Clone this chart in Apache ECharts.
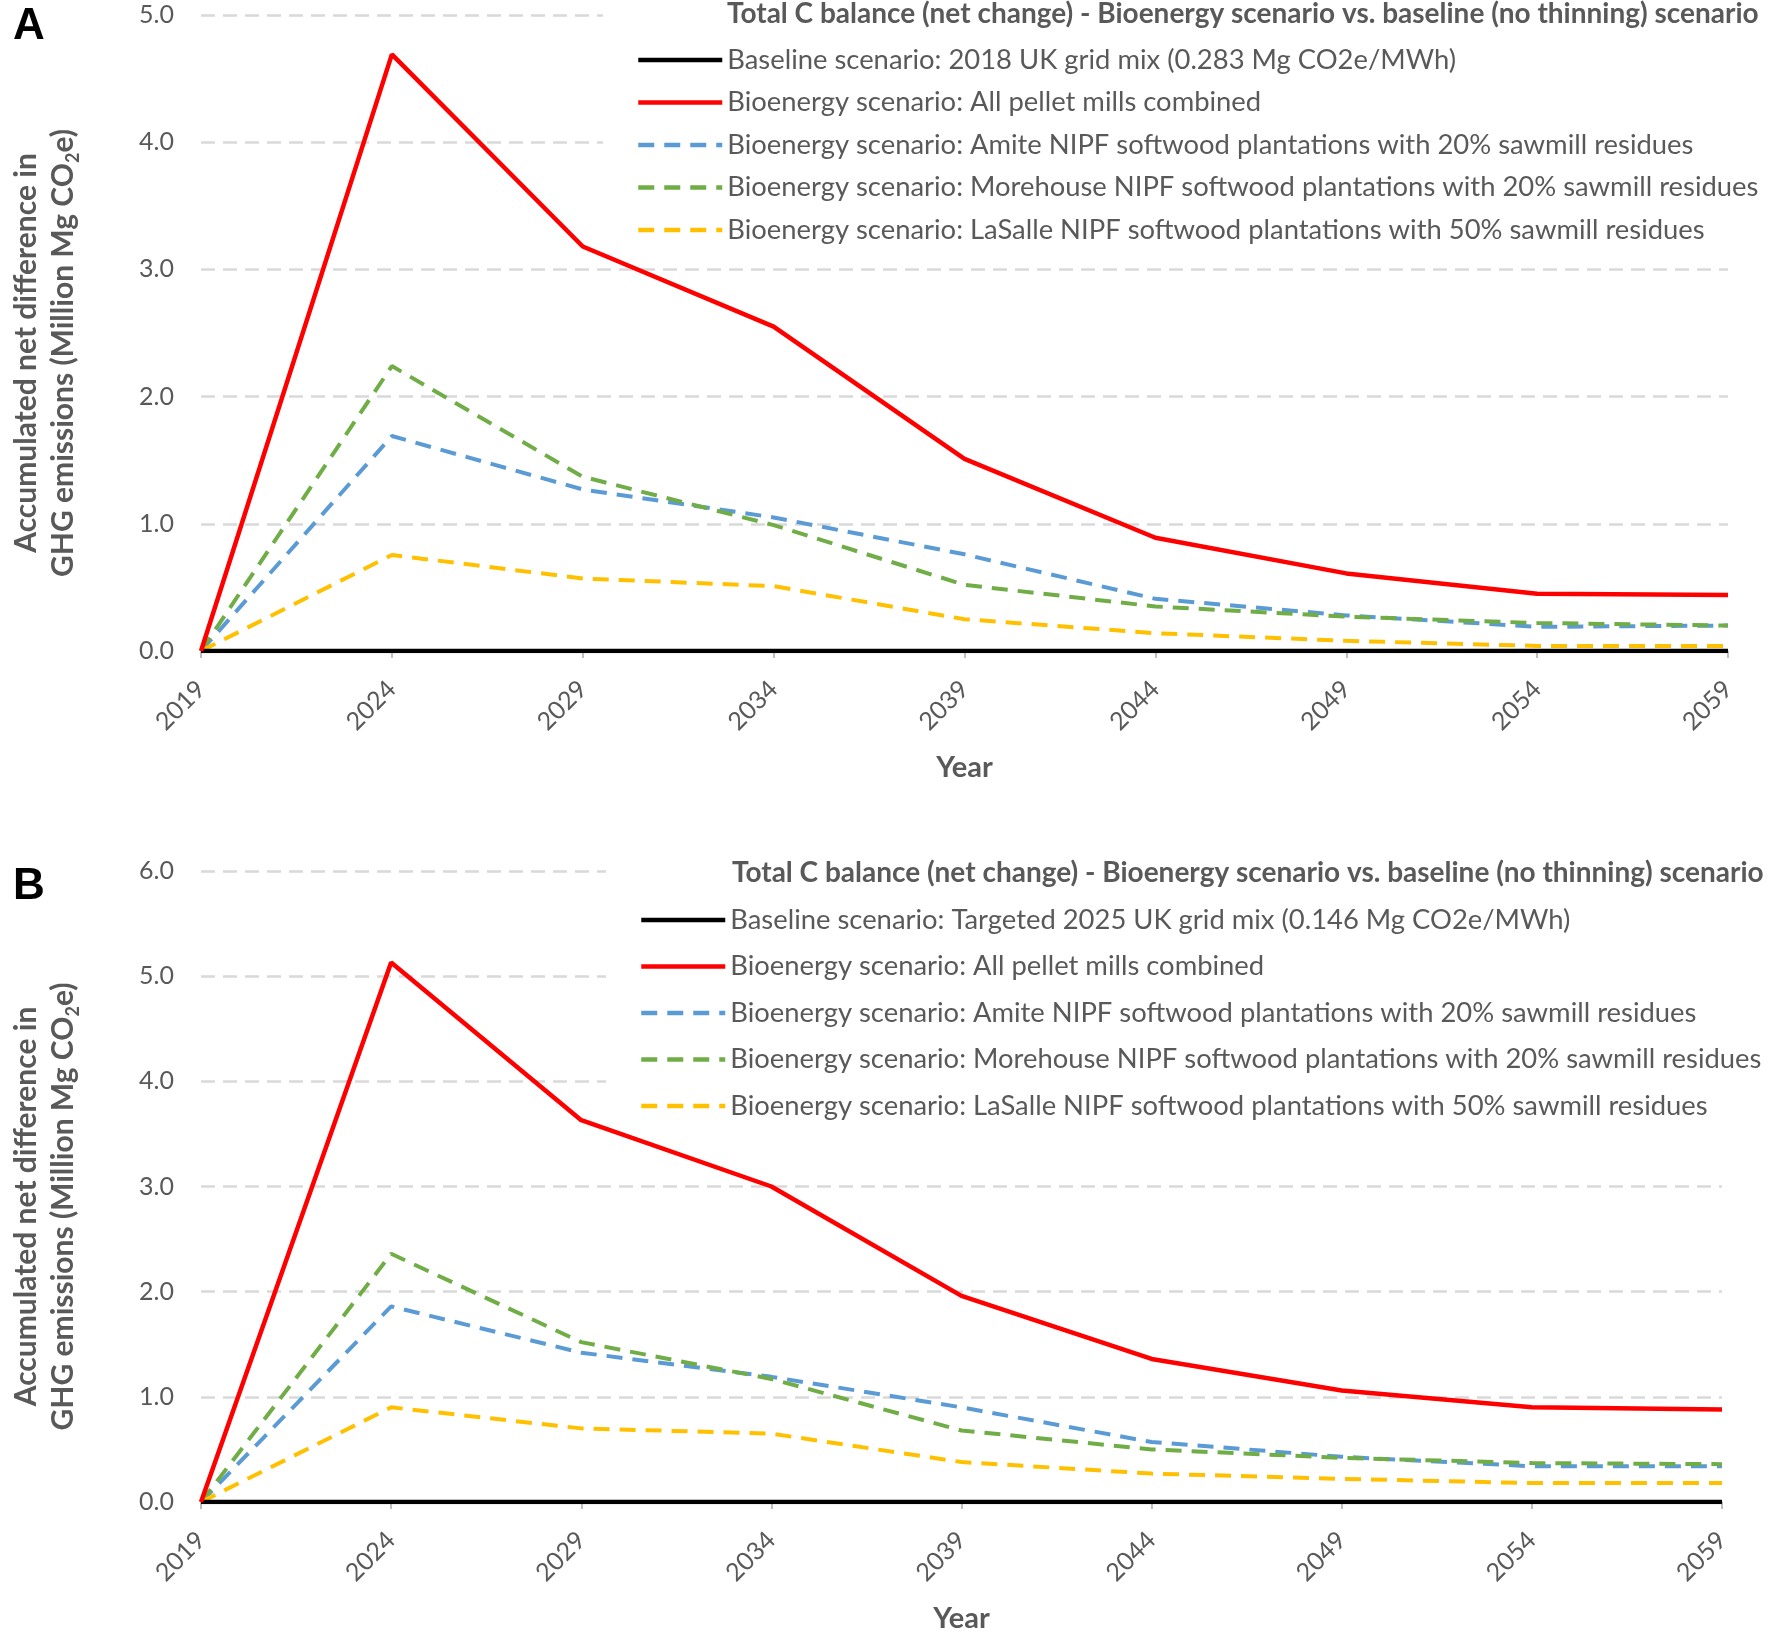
<!DOCTYPE html>
<html>
<head>
<meta charset="utf-8">
<script src="https://cdn.jsdelivr.net/npm/echarts@6/dist/echarts.min.js"></script>
<style>
  html, body { margin: 0; padding: 0; background: #fff; }
  #main { width: 1767px; height: 1635px; }
</style>
</head>
<body>
<div id="main"></div>
<script>
// 年份 (x轴)
const years = ['2019', '2024', '2029', '2034', '2039', '2044', '2049', '2054', '2059']

// A: 2018 UK grid mix
const baseA = [0, 0, 0, 0, 0, 0, 0, 0, 0]
const allMillsA = [0, 4.69, 3.18, 2.55, 1.51, 0.89, 0.61, 0.45, 0.44]
const amiteA = [0, 1.69, 1.27, 1.05, 0.76, 0.41, 0.28, 0.19, 0.20]
const morehouseA = [0, 2.24, 1.37, 0.99, 0.52, 0.35, 0.27, 0.22, 0.20]
const lasalleA = [0, 0.755, 0.57, 0.51, 0.25, 0.14, 0.08, 0.04, 0.04]

// B: Targeted 2025 UK grid mix
const baseB = [0, 0, 0, 0, 0, 0, 0, 0, 0]
const allMillsB = [0, 5.13, 3.63, 3.00, 1.96, 1.36, 1.06, 0.90, 0.88]
const amiteB = [0, 1.86, 1.42, 1.19, 0.90, 0.57, 0.43, 0.34, 0.34]
const morehouseB = [0, 2.36, 1.52, 1.17, 0.68, 0.50, 0.42, 0.37, 0.36]
const lasalleB = [0, 0.90, 0.70, 0.65, 0.38, 0.27, 0.22, 0.18, 0.18]

const yTicksA = [0, 1, 2, 3, 4, 5]
const yTicksB = [0, 1, 2, 3, 4, 5, 6]

const legendTitle = 'Total C balance (net change) - Bioenergy scenario vs. baseline (no thinning) scenario'
const baseNameA = 'Baseline scenario: 2018 UK grid mix (0.283 Mg CO2e/MWh)'
const baseNameB = 'Baseline scenario: Targeted 2025 UK grid mix (0.146 Mg CO2e/MWh)'
const millsName = 'Bioenergy scenario: All pellet mills combined'
const amiteName = 'Bioenergy scenario: Amite NIPF softwood plantations with 20% sawmill residues'
const morehouseName = 'Bioenergy scenario: Morehouse NIPF softwood plantations with 20% sawmill residues'
const lasalleName = 'Bioenergy scenario: LaSalle NIPF softwood plantations with 50% sawmill residues'

const FONT = 'Lato'
const GRAY = '#595959'

let chart = echarts.init(document.getElementById('main'))

function xAxisFor (gridIndex) {
    return {
        type: 'category',
        gridIndex: gridIndex,
        data: years,
        boundaryGap: false,
        name: 'Year',
        nameLocation: 'middle',
        nameGap: 102,
        nameTextStyle: { fontFamily: FONT, fontSize: 29, fontWeight: 'bold', color: GRAY },
        axisLine: { show: true, lineStyle: { color: '#d9d9d9', width: 2 } },
        axisTick: { show: true, length: 7, lineStyle: { color: '#bfbfbf', width: 2 } },
        axisLabel: { rotate: 45, margin: 34, fontFamily: FONT, fontSize: 25, color: GRAY },
        splitLine: { show: false }
    }
}

function yAxisFor (gridIndex, ticks) {
    return {
        type: 'value',
        gridIndex: gridIndex,
        min: ticks[0],
        max: ticks[ticks.length - 1],
        interval: 1,
        name: 'Accumulated net difference in\nGHG emissions (Million Mg CO{s|2}e)',
        nameLocation: 'middle',
        nameGap: 119,
        nameRotate: 90,
        nameTextStyle: {
            fontFamily: FONT, fontSize: 30, fontWeight: 'bold', color: GRAY, lineHeight: 37,
            padding: [0, 40, 0, 0],
            rich: {
                s: { fontFamily: FONT, fontSize: 18, fontWeight: 'bold', color: GRAY, lineHeight: 22, verticalAlign: 'bottom' }
            }
        },
        axisLine: { show: false },
        axisTick: { show: false },
        axisLabel: {
            margin: 27, fontFamily: FONT, fontSize: 25, color: GRAY,
            formatter: function (v) { return v.toFixed(1) }
        },
        splitLine: { show: true, lineStyle: { color: '#d9d9d9', width: 2.5, type: [14, 8] } }
    }
}

function lineSeries (name, data, color, dashed, idx, z) {
    return {
        name: name,
        type: 'line',
        xAxisIndex: idx,
        yAxisIndex: idx,
        data: data,
        symbol: 'none',
        z: z,
        lineStyle: { color: color, width: dashed ? 4 : 4.5, type: dashed ? [16, 10] : 'solid', cap: 'butt' },
        itemStyle: { color: color }
    }
}

// 图例: 白色背景盖住右上角的网格线
function legendFor (names, left, top, padTop, gap) {
    return {
        orient: 'vertical',
        left: left,
        top: top,
        data: names,
        itemWidth: 84,
        itemHeight: 1,
        itemGap: gap,
        backgroundColor: '#fff',
        padding: [padTop, 12, 6, 33],
        selectedMode: false,
        itemStyle: { opacity: 0 },
        lineStyle: { width: 4.5 },
        textStyle: { fontFamily: FONT, fontSize: 27.4, color: GRAY, lineHeight: 30, padding: [0, 0, 0, 0] }
    }
}

chart.setOption({
    backgroundColor: '#fff',
    animation: false,
    title: [
        { text: legendTitle, left: 727, top: 0, padding: 0, textStyle: { fontFamily: FONT, fontSize: 28, fontWeight: 'bold', color: GRAY } },
        { text: legendTitle, left: 732, top: 859, padding: 0, textStyle: { fontFamily: FONT, fontSize: 28, fontWeight: 'bold', color: GRAY } },
        { text: 'A', left: 8, top: 0, textStyle: { fontFamily: 'Liberation Sans', fontSize: 44, fontWeight: 'bold', color: '#000' } },
        { text: 'B', left: 8, top: 860, textStyle: { fontFamily: 'Liberation Sans', fontSize: 44, fontWeight: 'bold', color: '#000' } }
    ],
    legend: [
        legendFor([baseNameA, millsName, amiteName, morehouseName, lasalleName], 603, 0, 45, 12.5),
        legendFor([baseNameB, millsName, amiteName, morehouseName, lasalleName], 606, 860, 45, 16.5)
    ],
    grid: [
        { left: 198, right: 39, top: 15, height: 636 },
        { left: 198, right: 45, top: 871, height: 631 }
    ],
    xAxis: [xAxisFor(0), xAxisFor(1)],
    yAxis: [yAxisFor(0, yTicksA), yAxisFor(1, yTicksB)],
    series: [
        lineSeries(baseNameA, baseA, '#000000', false, 0, 3),
        lineSeries(millsName, allMillsA, '#ff0000', false, 0, 4),
        lineSeries(amiteName, amiteA, '#5b9bd5', true, 0, 2),
        lineSeries(morehouseName, morehouseA, '#70ad47', true, 0, 2),
        lineSeries(lasalleName, lasalleA, '#ffc000', true, 0, 2),
        lineSeries(baseNameB, baseB, '#000000', false, 1, 3),
        lineSeries(millsName, allMillsB, '#ff0000', false, 1, 4),
        lineSeries(amiteName, amiteB, '#5b9bd5', true, 1, 2),
        lineSeries(morehouseName, morehouseB, '#70ad47', true, 1, 2),
        lineSeries(lasalleName, lasalleB, '#ffc000', true, 1, 2)
    ]
})
</script>
</body>
</html>
